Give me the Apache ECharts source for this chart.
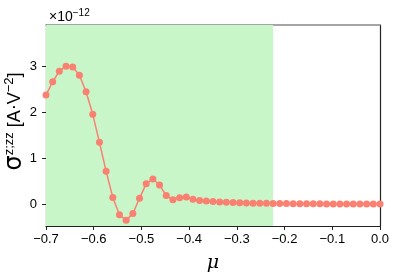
<!DOCTYPE html>
<html>
<head>
<meta charset="utf-8">
<script src="https://cdn.jsdelivr.net/npm/echarts@6/dist/echarts.min.js"></script>
<style>html,body{margin:0;padding:0;background:#fff}#c{width:397px;height:272px}</style>
</head>
<body>
<div id="c"></div>
<script>
const mu = [-0.700,-0.686,-0.672,-0.658,-0.644,-0.630,-0.616,-0.602,-0.588,-0.574,-0.560,-0.546,-0.532,-0.518,-0.504,-0.490,-0.476,-0.462,-0.448,-0.434,-0.420,-0.406,-0.392,-0.378,-0.364,-0.350,-0.336,-0.322,-0.308,-0.294,-0.280,-0.266,-0.252,-0.238,-0.224,-0.210,-0.196,-0.182,-0.168,-0.154,-0.140,-0.126,-0.112,-0.098,-0.084,-0.070,-0.056,-0.042,-0.028,-0.014,0.000];
const sigma = [2.38,2.67,2.90,3.01,2.99,2.81,2.45,1.96,1.35,0.72,0.15,-0.23,-0.35,-0.20,0.13,0.45,0.55,0.42,0.19,0.10,0.14,0.16,0.11,0.085,0.07,0.06,0.05,0.045,0.04,0.035,0.03,0.025,0.022,0.02,0.018,0.016,0.015,0.014,0.013,0.012,0.011,0.010,0.009,0.009,0.008,0.008,0.007,0.007,0.006,0.006,0.005];
const shadeRange = [-0.7, -0.224];
const yTicks = [0,1,2,3];

const chart = echarts.init(document.getElementById('c'), null, {renderer:'canvas'});
const font = 'Liberation Sans, Arial, sans-serif';
chart.setOption({
  animation:false,
  backgroundColor:'#fff',
  title:{
    text:'×10{s|−12}', left:44, top:3,
    textStyle:{fontFamily:font, fontSize:14, fontWeight:'normal', color:'#000',
      rich:{s:{fontSize:10, verticalAlign:'top', padding:[0,0,8,0], fontFamily:font}}}
  },
  grid:{left:46, right:17, top:25, bottom:46, containLabel:false, outerBoundsMode:'none'},
  xAxis:[{
    type:'value', min:-0.7, max:0, interval:0.1,
    name:'μ', nameLocation:'middle', nameGap:28, nameMoveOverlap:false,
    nameTextStyle:{fontFamily:'DejaVu Serif, serif', fontStyle:'italic', fontSize:19, color:'#000'},
    axisLine:{show:true, onZero:false, lineStyle:{color:'#222', width:1.2}},
    axisTick:{show:true, length:4, lineStyle:{color:'#222'}},
    axisLabel:{fontFamily:font, fontSize:13, color:'#000', margin:7,
      formatter:v=>{const s=v.toFixed(1); return s==='-0.0'?'0.0':s.replace('-','−');}},
    splitLine:{show:false}
  },{
    type:'value', position:'top', min:-0.7, max:0,
    axisLine:{show:true, onZero:false, lineStyle:{color:'#888', width:1.5}},
    axisTick:{show:false}, axisLabel:{show:false}, splitLine:{show:false}
  }],
  yAxis:[{
    type:'value', min:-0.473, max:3.906, splitNumber:5,
    name:'{s|σ}{u|z;zz} [A⋅V{u|−2}]', nameLocation:'middle', nameGap:19, nameRotate:90, nameMoveOverlap:false,
    nameTextStyle:{fontFamily:font, fontSize:18, color:'#000', padding:[0,0,0,8],
      rich:{s:{fontSize:24, fontFamily:'DejaVu Sans, sans-serif'}, u:{fontSize:13, verticalAlign:'top', padding:[0,0,10,0], fontFamily:font}}},
    axisLine:{show:true, onZero:false, lineStyle:{color:'#222', width:1.2}},
    axisTick:{show:true, length:4, lineStyle:{color:'#222'}},
    axisLabel:{fontFamily:font, fontSize:13, color:'#000', margin:9, showMinLabel:false, showMaxLabel:false,
      formatter:v=>yTicks.includes(v)?String(v):''},
    splitLine:{show:false}
  },{
    type:'value', position:'right', min:-0.473, max:3.906,
    axisLine:{show:true, onZero:false, lineStyle:{color:'#222', width:1.2}},
    axisTick:{show:false}, axisLabel:{show:false}, splitLine:{show:false}
  }],
  series:[{
    type:'line',
    data:mu.map((m,i)=>[m, sigma[i]]),
    symbol:'circle', symbolSize:7,
    lineStyle:{color:'#fa8072', width:1.5},
    itemStyle:{color:'#fa8072'},
    clip:true,
    markArea:{silent:true, itemStyle:{color:'#c8f6c8'},
      data:[[{xAxis:shadeRange[0]},{xAxis:shadeRange[1]}]]},
    z:3
  }]
});
</script>
</body>
</html>
